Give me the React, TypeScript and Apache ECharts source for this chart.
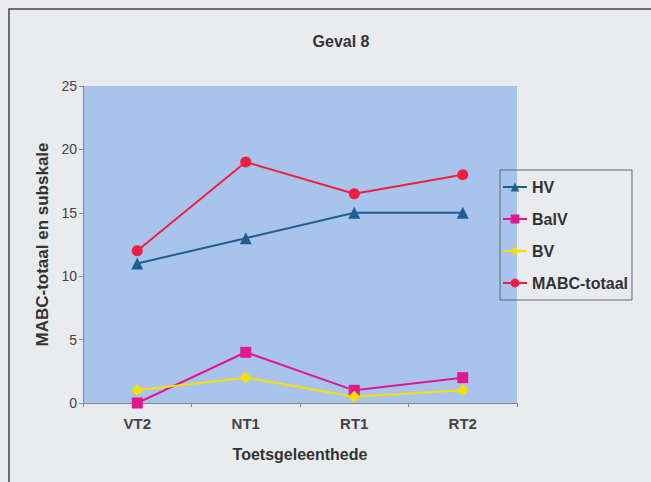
import React, { useEffect, useRef } from "react";
import * as echarts from "echarts";

const categories = ["VT2", "NT1", "RT1", "RT2"];
const hv = [11, 13, 15, 15];
const balv = [0, 4, 1, 2];
const bv = [1, 2, 0.5, 1];
const mabc = [12, 19, 16.5, 18];
const yTicks = [0, 5, 10, 15, 20, 25];

export default function App() {
  const ref = useRef<HTMLDivElement>(null);
  useEffect(() => {
    const chart = echarts.init(ref.current!, null, { renderer: "svg" });
    const font = "Arial, 'Liberation Sans', sans-serif";
    const mk = (name: string, data: number[], color: string, symbol: string, size: number) => ({
      name,
      type: "line",
      data,
      symbol,
      symbolSize: size,
      itemStyle: { color },
      lineStyle: { color, width: 2 },
    });
    chart.setOption({
      animation: false,
      backgroundColor: "#e9ebef",
      title: {
        text: "Geval 8",
        left: 336,
        top: 28,
        textAlign: "center",
        textStyle: { fontFamily: font, fontSize: 16, fontWeight: "bold", color: "#333" },
      },
      graphic: [
        {
          type: "rect",
          shape: { x: 9, y: 9, width: 660, height: 500 },
          style: { fill: "none", stroke: "#444", lineWidth: 1.5 },
          silent: true,
        },
      ],
      legend: {
        orient: "vertical",
        left: 500,
        top: 170,
        padding: [9, 4, 9, 2],
        itemGap: 16,
        itemWidth: 24,
        itemHeight: 11,
        borderColor: "#666",
        borderWidth: 1,
        textStyle: { fontFamily: font, fontSize: 16, fontWeight: "bold", color: "#333" },
        data: ["HV", "BalV", "BV", "MABC-totaal"],
      },
      grid: { left: 83, top: 86, width: 434, height: 317, show: true, backgroundColor: "#a9c4ec", borderWidth: 0 },
      xAxis: {
        type: "category",
        data: categories,
        boundaryGap: true,
        name: "Toetsgeleenthede",
        nameLocation: "middle",
        nameGap: 43,
        nameTextStyle: { fontFamily: font, fontSize: 16, fontWeight: "bold", color: "#333" },
        axisLine: { lineStyle: { color: "#888", width: 1 } },
        axisTick: { show: true, length: 4, lineStyle: { color: "#888" } },
        axisLabel: { fontFamily: font, fontSize: 15, fontWeight: "bold", color: "#444", margin: 13 },
      },
      yAxis: {
        type: "value",
        min: yTicks[0],
        max: yTicks[yTicks.length - 1],
        interval: 5,
        name: "MABC-totaal en subskale",
        nameLocation: "middle",
        nameGap: 32,
        nameTextStyle: { fontFamily: font, fontSize: 17, fontWeight: "bold", color: "#333" },
        axisLine: { show: true, lineStyle: { color: "#888" } },
        axisTick: { show: true, length: 4, lineStyle: { color: "#888" } },
        axisLabel: { fontFamily: font, fontSize: 14, color: "#444", margin: 6 },
        splitLine: { show: false },
      },
      series: [
        mk("HV", hv, "#1f5f8f", "triangle", 12),
        mk("BalV", balv, "#e0198c", "rect", 11),
        mk("BV", bv, "#f5e000", "diamond", 12),
        mk("MABC-totaal", mabc, "#f01e40", "circle", 11),
      ],
    });
    return () => chart.dispose();
  }, []);
  return (
    <div
      ref={ref}
      style={{ position: "fixed", left: 0, top: 0, width: 651, height: 482 }}
    />
  );
}
